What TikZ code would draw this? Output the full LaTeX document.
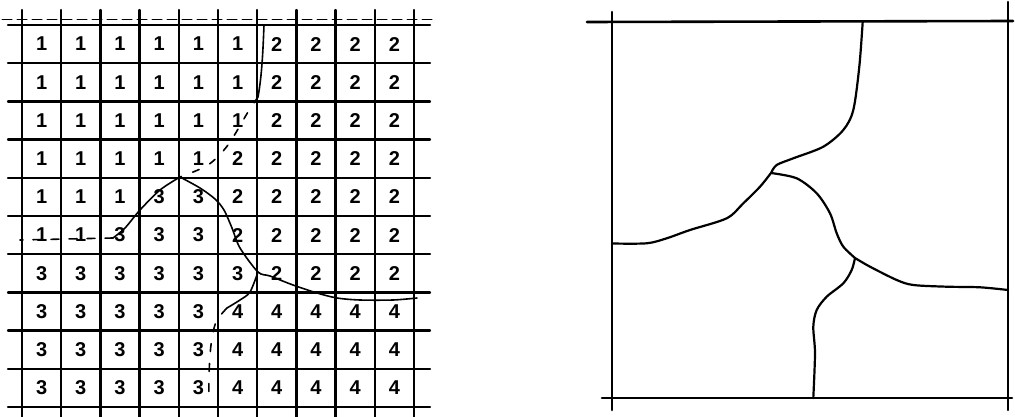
\documentclass[tikz,border=0pt]{standalone}
\usepackage{fontspec}
\setmainfont{Liberation Sans}
\begin{document}
\begin{tikzpicture}[x=1pt,y=-1pt,
  gridline/.style={line width=2.3pt},
  frameline/.style={line width=2.6pt},
  bound/.style={line width=1.6pt},
  curveline/.style={line width=2.2pt},
  cell/.style={font=\fontsize{20}{20}\selectfont\bfseries, inner sep=0pt},
  line cap=round, line join=round]
\useasboundingbox[fill=white] (0,0) rectangle (1015,417);
% ---------- left grid ----------
\foreach \i in {0,...,10} {
  \draw[gridline] ({22+39.2*\i},10) -- ({22+39.2*\i},417);
  \draw[gridline] (8,{25+38.2*\i}) -- (430,{25+38.2*\i});
}
\draw[line width=1pt, dash pattern=on 10pt off 5pt] (2,20) -- (435,20);
\foreach \row [count=\r] in {
  {1,1,1,1,1,1,2,2,2,2},
  {1,1,1,1,1,1,2,2,2,2},
  {1,1,1,1,1,1,2,2,2,2},
  {1,1,1,1,1,2,2,2,2,2},
  {1,1,1,3,3,2,2,2,2,2},
  {1,1,3,3,3,2,2,2,2,2},
  {3,3,3,3,3,3,2,2,2,2},
  {3,3,3,3,3,4,4,4,4,4},
  {3,3,3,3,3,4,4,4,4,4},
  {3,3,3,3,3,4,4,4,4,4}} {
  \foreach \v [count=\c] in \row {
    \node[cell] (n\r-\c) at ({22+39.2*(\c-0.5)},{25+38.2*(\r-0.5)}) {\v};
  }
}
% region boundaries in the grid
\coordinate (G0) at (180,177);
\coordinate (G1) at (258,272);
\draw[bound] (264,25) .. controls (263,50) and (262,75) .. (258,97);
\draw[bound, dash pattern=on 7pt off 12pt] plot[smooth] coordinates {(258,97) (248,112) (228,145) (208,165) (G0)};
\draw[bound] plot[smooth] coordinates {(G0) (160,190) (140,210) (125,228) (113,238)};
\draw[bound, dash pattern=on 8pt off 10pt] (113,238) -- (20,240);
\draw[bound] plot[smooth] coordinates {(G0) (200,188) (215,199) (224,210) (232,228) (240,248) (G1) (270,276) (293,285) (317,293) (337,298) (360,300) (393,300) (417,298)};
\draw[bound] plot[smooth] coordinates {(G1) (250,292) (240,300) (227,308)};
\draw[bound, dash pattern=on 8pt off 12pt] plot[smooth] coordinates {(227,308) (216,322) (211,345) (209,375) (209,400)};
% ---------- right panel ----------
\draw[frameline] (612,12) -- (612,410);
\draw[frameline] (587,22) -- (1013,21);
\draw[frameline] (1008,2) -- (1008,410);
\draw[frameline] (602,398) -- (1012,398);
\coordinate (J1) at (771,173);
\coordinate (J2) at (855,258);
\draw[curveline] plot[smooth] coordinates {(862.7,22) (859.3,66.7) (853.3,110) (843.3,130) (823.3,146.7) (793.3,158.3) (776.7,165) (J1)};
\draw[curveline] plot[smooth] coordinates {(J1) (760,186.7) (743.3,203.3) (726.7,218.3) (690,230) (666.7,238.3) (646.7,243.3) (612,243.5)};
\draw[curveline] plot[smooth] coordinates {(J1) (796.7,178.3) (816.7,193.3) (830,213.3) (836.7,233.3) (843.3,246.7) (J2)};
\draw[curveline] plot[smooth] coordinates {(J2) (870,266.7) (896.7,280) (913.3,285) (946.7,286.7) (980,287.3) (1008,290)};
\draw[curveline] plot[smooth] coordinates {(J2) (851.7,270) (843.3,283.3) (826.7,296.7) (816.7,310) (813.3,326.7) (815,353.3) (813.3,398)};
\end{tikzpicture}
\end{document}
